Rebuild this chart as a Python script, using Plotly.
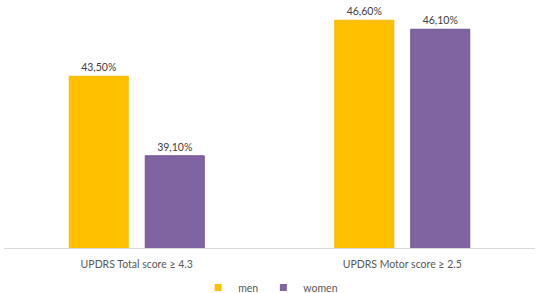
import plotly.graph_objects as go

categories = ["UPDRS Total score ≥ 4.3", "UPDRS Motor score ≥ 2.5"]
series_names = ["men", "women"]
men = [43.5, 46.6]
women = [39.1, 46.1]
colors = ["#FFC000", "#8064A2"]
edge_colors = ["#F5BB00", "#6E5590"]

font_family = "Lato, Open Sans, sans-serif"

fig = go.Figure()
for name, vals, col, edge in zip(series_names, [men, women], colors, edge_colors):
    fig.add_trace(go.Bar(
        name=name, x=categories, y=vals,
        marker=dict(color=col, line=dict(color=edge, width=1)),
        texttemplate="%{y:.2f}%", textposition="outside",
        textfont=dict(size=10.5, color="#404040", family=font_family),
        cliponaxis=False, showlegend=False, hoverinfo="skip",
    ))
# legend entries with small square markers
for name, col in zip(series_names, colors):
    fig.add_trace(go.Scatter(
        name=name, x=[categories[0]], y=[None], mode="markers",
        marker=dict(symbol="square", size=7, color=col),
        showlegend=True, hoverinfo="skip",
    ))

fig.update_layout(
    width=536, height=293,
    margin=dict(l=4, r=1, t=13, b=45, autoexpand=False),
    paper_bgcolor="white", plot_bgcolor="white",
    separators=",.",
    barmode="group",
    bargap=0.4275, bargroupgap=0.224,
    font=dict(family=font_family, size=10.5, color="#595959"),
    showlegend=True,
    legend=dict(orientation="h", x=0.505, xanchor="center", xref="container",
                y=0.068, yanchor="top", yref="container",
                bgcolor="rgba(0,0,0,0)",
                font=dict(size=10.5, color="#595959"), itemwidth=30,
                traceorder="normal", tracegroupgap=0),
    xaxis=dict(showline=True, linecolor="#D9D9D9", linewidth=1,
               ticks="outside", ticklen=6, tickcolor="rgba(0,0,0,0)",
               tickfont=dict(size=10.5, color="#595959"), showgrid=False,
               zeroline=False),
    yaxis=dict(range=[34, 47], visible=False, showgrid=False),
)

fig.write_html("out.html", config={"displayModeBar": False},
               post_script="document.body.style.margin='0';document.body.style.overflow='hidden';")
